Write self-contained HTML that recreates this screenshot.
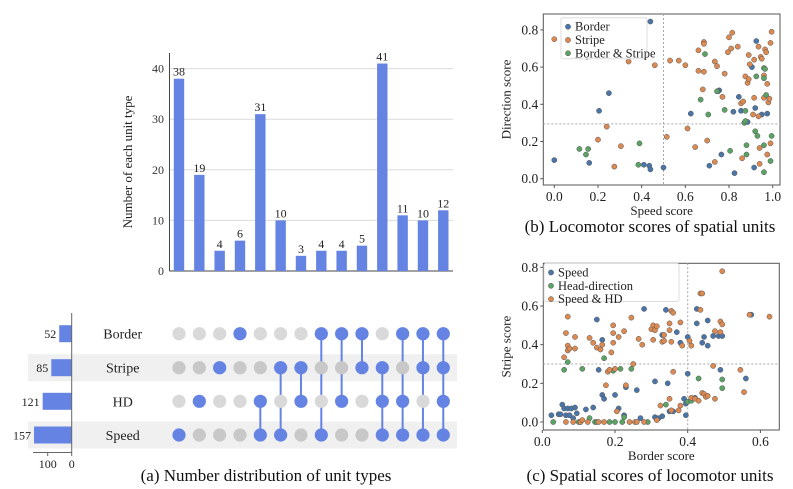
<!DOCTYPE html>
<html><head><meta charset="utf-8"><style>
html,body{margin:0;padding:0;background:#fff;}
svg{display:block;}
svg text{font-family:"Liberation Serif","DejaVu Serif",serif;}
</style></head><body>
<svg id="fig" width="793" height="489" viewBox="0 0 793 489" xmlns="http://www.w3.org/2000/svg" font-family="Liberation Serif, serif"></svg>
<script>
const barCounts=[38,19,4,6,31,10,3,4,4,5,41,11,10,12];
const setNames=["Border","Stripe","HD","Speed"];
const setSizes=[52,85,121,157];
const memBorder=[0,0,0,1,0,0,0,1,1,1,0,1,1,1];
const memStripe=[0,0,1,0,0,1,1,0,0,1,1,0,1,1];
const memHD=[0,1,0,0,1,0,1,0,1,0,1,1,0,1];
const memSpeed=[1,0,0,0,1,1,0,1,0,0,1,1,1,1];
const barTicks=[0,10,20,30,40];
const bBorder=[[0,.10],[.15,.655],[.16,.085],[.25,.46],[.205,.365],[.41,.075],[.435,.07],[.44,.05],[.44,.845],[.50,.06],[.625,.35],[.71,.07],[.755,.475],[.765,.13],[.82,.36],[.825,.03],[.845,.44],[.855,.365],[.885,.305],[.905,.60],[.915,.06],[.92,.38],[.925,.74],[.95,.345],[.975,.35],[.75,.47]];
const bStripe=[[0,.75],[.20,.21],[.24,.28],[.275,.065],[.305,.175],[.34,.63],[.46,.61],[.515,.225],[.53,.635],[.57,.635],[.60,.61],[.61,.27],[.645,.17],[.66,.69],[.66,.58],[.685,.735],[.685,.725],[.685,.575],[.68,.48],[.70,.205],[.735,.63],[.735,.09],[.745,.605],[.77,.44],[.78,.565],[.795,.68],[.80,.76],[.81,.70],[.815,.785],[.84,.71],[.855,.405],[.86,.11],[.865,.415],[.875,.55],[.885,.515],[.89,.535],[.89,.665],[.895,.615],[.91,.345],[.915,.435],[.915,.64],[.935,.71],[.935,.335],[.94,.165],[.94,.08],[.945,.655],[.95,.645],[.96,.555],[.96,.435],[.965,.695],[.97,.68],[.975,.51],[.975,.13],[.98,.41],[.985,.43],[.99,.73],[.99,.19],[.995,.79]];
const bBoth=[[.115,.16],[.145,.13],[.155,.16],[.385,.075],[.39,.19],[.69,.67],[.67,.425],[.705,.345],[.745,.47],[.78,.37],[.805,.15],[.87,.30],[.875,.365],[.875,.31],[.88,.13],[.88,.18],[.92,.255],[.925,.55],[.93,.23],[.96,.595],[.96,.54],[.96,.18],[.96,.035],[.965,.59],[.97,.45],[.99,.095],[.995,.23]];
const cSpeed=[[.025,.035],[.045,.04],[.05,.04],[.055,.09],[.06,.07],[.065,.035],[.07,.07],[.075,.035],[.08,.07],[.085,.02],[.09,.075],[.095,.045],[.12,.065],[.14,.075],[.15,.53],[.155,.27],[.165,.14],[.165,.425],[.17,.12],[.2,.14],[.21,.07],[.225,.035],[.23,.18],[.26,.165],[.27,.02],[.28,.585],[.31,.025],[.31,.21],[.32,.02],[.33,.45],[.33,.03],[.335,.64],[.34,.58],[.345,.2],[.35,.055],[.36,.66],[.36,.055],[.37,.465],[.38,.41],[.39,.12],[.395,.035],[.40,.44],[.395,.095],[.40,.25],[.41,.12],[.42,.125],[.425,.585],[.425,.51],[.44,.41],[.445,.44],[.455,.525],[.455,.395],[.47,.445],[.485,.445],[.49,.27],[.495,.445],[.56,.225],[.575,.555]];
const cHD=[[.03,0],[.06,.27],[.07,.31],[.10,0],[.105,0],[.11,.275],[.13,.02],[.145,0],[.15,0],[.17,.33],[.185,0],[.195,.265],[.20,0],[.215,.275],[.22,0],[.225,.025],[.245,.275],[.265,.755],[.29,0],[.34,.09],[.40,.105],[.41,.11],[.43,.225],[.495,.22],[.495,.175]];
const cBoth=[[.06,.335],[.065,.46],[.07,.395],[.07,.37],[.075,.38],[.07,.545],[.09,.38],[.09,.44],[.065,0],[.085,0],[.105,0],[.11,.01],[.13,.435],[.125,0],[.14,.41],[.15,.385],[.155,0],[.16,.375],[.165,.4],[.17,0],[.175,.19],[.18,.26],[.185,.27],[.19,.36],[.195,.41],[.195,.5],[.195,.46],[.2,.275],[.205,.055],[.21,.44],[.225,.47],[.23,.19],[.24,0],[.245,.54],[.25,.3],[.255,0],[.26,0],[.265,.43],[.275,.4],[.28,0],[.30,.48],[.305,.5],[.305,.425],[.31,.475],[.315,.01],[.315,.495],[.32,.68],[.325,.685],[.325,.085],[.33,.415],[.335,.45],[.335,.42],[.35,.475],[.35,.51],[.35,.12],[.355,.575],[.355,.415],[.355,.06],[.36,.26],[.36,.565],[.375,.06],[.38,.085],[.38,.515],[.385,.395],[.405,.42],[.41,.395],[.41,.125],[.42,.12],[.43,.11],[.435,.58],[.435,.665],[.44,.665],[.44,.15],[.445,.145],[.45,.13],[.455,.135],[.47,.29],[.475,.47],[.475,.12],[.49,.465],[.49,.52],[.495,.505],[.495,.78],[.545,.27],[.555,.155],[.57,.555],[.625,.545]];
const bTicksX=[0,0.2,0.4,0.6,0.8,1.0];
const bTicksY=[0,0.2,0.4,0.6,0.8];
const cTicksX=[0,0.2,0.4,0.6];
const cTicksY=[0,0.2,0.4,0.6,0.8];

const NS="http://www.w3.org/2000/svg";
const svg=document.getElementById("fig");
function mk(tag,attrs,parent,text){const e=document.createElementNS(NS,tag);for(const k in attrs)e.setAttribute(k,attrs[k]);if(text!==undefined){e.textContent=text;e.setAttribute("font-family","Liberation Serif, DejaVu Serif, serif");}(parent||svg).appendChild(e);return e;}
const BLUE="#6483e3";

const barG=mk("g",{});


const bx0=179,bdx=20.33,by0=271,bpx=5.06;
const byS=v=>by0-v*bpx;
barTicks.forEach(t=>{
  if(t>0){const gl=mk("line",{x1:170,x2:453,y1:byS(t),y2:byS(t),stroke:"#dcdcdc","stroke-width":1},barG);
  }
  const tl=mk("text",{x:164,y:byS(t)+4,"text-anchor":"end","font-size":12,fill:"#333"},barG,String(t));
  
});
mk("line",{x1:169.5,x2:169.5,y1:53,y2:271,stroke:"#444"},barG);
mk("line",{x1:169.5,x2:453,y1:271,y2:271,stroke:"#444"},barG);
barCounts.forEach((v,i)=>{
  const cx=bx0+i*bdx;
  const r=mk("rect",{x:cx-5.2,y:byS(v),width:10.4,height:v*bpx,fill:BLUE},barG);
  
  const t=mk("text",{x:cx,y:byS(v)-3,"text-anchor":"middle","font-size":12,fill:"#222"},barG,String(v));
  
});
const yl=mk("text",{x:0,y:0,transform:"translate(132,162) rotate(-90)","text-anchor":"middle","font-size":13,fill:"#222"},barG,"Number of each unit type");


const rowsY=[333.7,367.7,401.3,435];
const mem=[memBorder,memStripe,memHD,memSpeed];
[1,3].forEach(r=>{const b=mk("rect",{x:28,y:rowsY[r]-13.5,width:429,height:27,fill:"#f0f0f0"});
});
const sxAxis=71.7,spx=0.24;
setSizes.forEach((v,r)=>{
  const b=mk("rect",{x:sxAxis-v*spx,y:rowsY[r]-8.5,width:v*spx,height:17,fill:BLUE});
  
  const t=mk("text",{x:sxAxis-v*spx-3,y:rowsY[r]+4.5,"text-anchor":"end","font-size":12,fill:"#222"},svg,String(v));
  
  const n=mk("text",{x:122.7,y:rowsY[r]+5,"text-anchor":"middle","font-size":14,fill:"#222"},svg,setNames[r]);
  
});
mk("line",{x1:sxAxis,x2:sxAxis,y1:313,y2:453,stroke:"#666"});
mk("line",{x1:33,x2:sxAxis,y1:452.5,y2:452.5,stroke:"#666"});
[[100,"100"],[0,"0"]].forEach(([v,s])=>{
  mk("line",{x1:sxAxis-v*spx,x2:sxAxis-v*spx,y1:452.5,y2:456,stroke:"#666"});
  const t=mk("text",{x:sxAxis-v*spx,y:468,"text-anchor":"middle","font-size":12,fill:"#222"},svg,s);
  
});
for(let i=0;i<barCounts.length;i++){
  const cx=bx0+i*bdx;
  const act=[0,1,2,3].filter(r=>mem[r][i]);
  if(act.length>1){mk("line",{x1:cx,x2:cx,y1:rowsY[act[0]],y2:rowsY[act[act.length-1]],stroke:BLUE,"stroke-width":2});}
  for(let r=0;r<4;r++){
    const on=mem[r][i];
    const c=mk("circle",{cx:cx,cy:rowsY[r],r:6.6,fill:on?BLUE:(r%2?"#c8c8c8":"#d9d9d9")});
    
  }
}
const capA=mk("text",{x:266,y:481,"text-anchor":"middle","font-size":17,fill:"#111"},svg,"(a) Number distribution of unit types");


function scatter(o){
  const g=mk("g",{});
  
  
  const X=v=>o.x0+(v-o.xmin)*o.xs, Y=v=>o.y0-v*o.ys;
  mk("rect",{x:o.L,y:o.T,width:o.R-o.L,height:o.B-o.T,fill:"none",stroke:"#555","stroke-width":1},g);
  mk("line",{x1:X(o.vx),x2:X(o.vx),y1:o.T,y2:o.B,stroke:"#aaa","stroke-dasharray":"2,2"},g);
  mk("line",{x1:o.L,x2:o.R,y1:Y(o.hy),y2:Y(o.hy),stroke:"#aaa","stroke-dasharray":"2,2"},g);
  o.tx.forEach(t=>{mk("line",{x1:X(t),x2:X(t),y1:o.B,y2:o.B+3,stroke:"#555"},g);
    const e=mk("text",{x:X(t),y:o.B+16,"text-anchor":"middle","font-size":13.5,fill:"#222"},g,t.toFixed(1));
    });
  o.ty.forEach(t=>{mk("line",{x1:o.L-3,x2:o.L,y1:Y(t),y2:Y(t),stroke:"#555"},g);
    const e=mk("text",{x:o.L-5,y:Y(t)+4.5,"text-anchor":"end","font-size":13.5,fill:"#222"},g,t.toFixed(1));
    });
  o.series.forEach(s=>{s.d.forEach(p=>{
    const c=mk("circle",{cx:X(p[0]),cy:Y(p[1]),r:2.6,fill:s.c,stroke:"#555","stroke-width":0.5},g);
    });});
  const lg=mk("g",{},g);
  
  mk("rect",{x:o.lx,y:o.ly,width:o.lw,height:o.lh,fill:"#fff",stroke:"#ddd",rx:2},lg);
  o.series.forEach((s,i)=>{const yy=o.ly+9+i*13.3;
    mk("circle",{cx:o.lx+7,cy:yy,r:2.6,fill:s.c,stroke:"#555","stroke-width":0.5},lg);
    const e=mk("text",{x:o.lx+14,y:yy+4,"font-size":12.5,fill:"#222"},lg,s.n);
    });
  const xl=mk("text",{x:(o.L+o.R)/2,y:o.B+30,"text-anchor":"middle","font-size":13,fill:"#222"},g,o.xl);
  
  const yt=mk("text",{x:0,y:0,transform:`translate(${o.L-33},${(o.T+o.B)/2}) rotate(-90)`,"text-anchor":"middle","font-size":13,fill:"#222"},g,o.yl);
  
  const cp=mk("text",{x:o.capx,y:o.capy,"text-anchor":"middle","font-size":17,fill:"#111"},g,o.cap);
  
}
const CB="#4a75a8",CO="#dd8a52",CG="#5aa364";
scatter({name:"locomotor-scatter",L:543.3,R:780,T:14,B:185,x0:554.3,xmin:0,xs:218.4,y0:178.7,ys:186,vx:0.5,hy:0.295,
  tx:bTicksX,ty:bTicksY,series:[{n:"Border",c:CB,d:bBorder},{n:"Stripe",c:CO,d:bStripe},{n:"Border & Stripe",c:CG,d:bBoth}],
  lx:561,ly:17.7,lw:86,lh:41,xl:"Speed score",yl:"Direction score",cap:"(b) Locomotor scores of spatial units",capx:650,capy:232});
scatter({name:"spatial-scatter",L:543.3,R:779.3,T:263.3,B:430,x0:542.3,xmin:0,xs:363.5,y0:422,ys:193.3,vx:0.4,hy:0.3,
  tx:cTicksX,ty:cTicksY,series:[{n:"Speed",c:CB,d:cSpeed},{n:"Head-direction",c:CG,d:cHD},{n:"Speed & HD",c:CO,d:cBoth}],
  lx:544,ly:263.5,lw:135,lh:38,xl:"Border score",yl:"Stripe score",cap:"(c) Spatial scores of locomotor units",capx:650,capy:481});
</script>
</body></html>
